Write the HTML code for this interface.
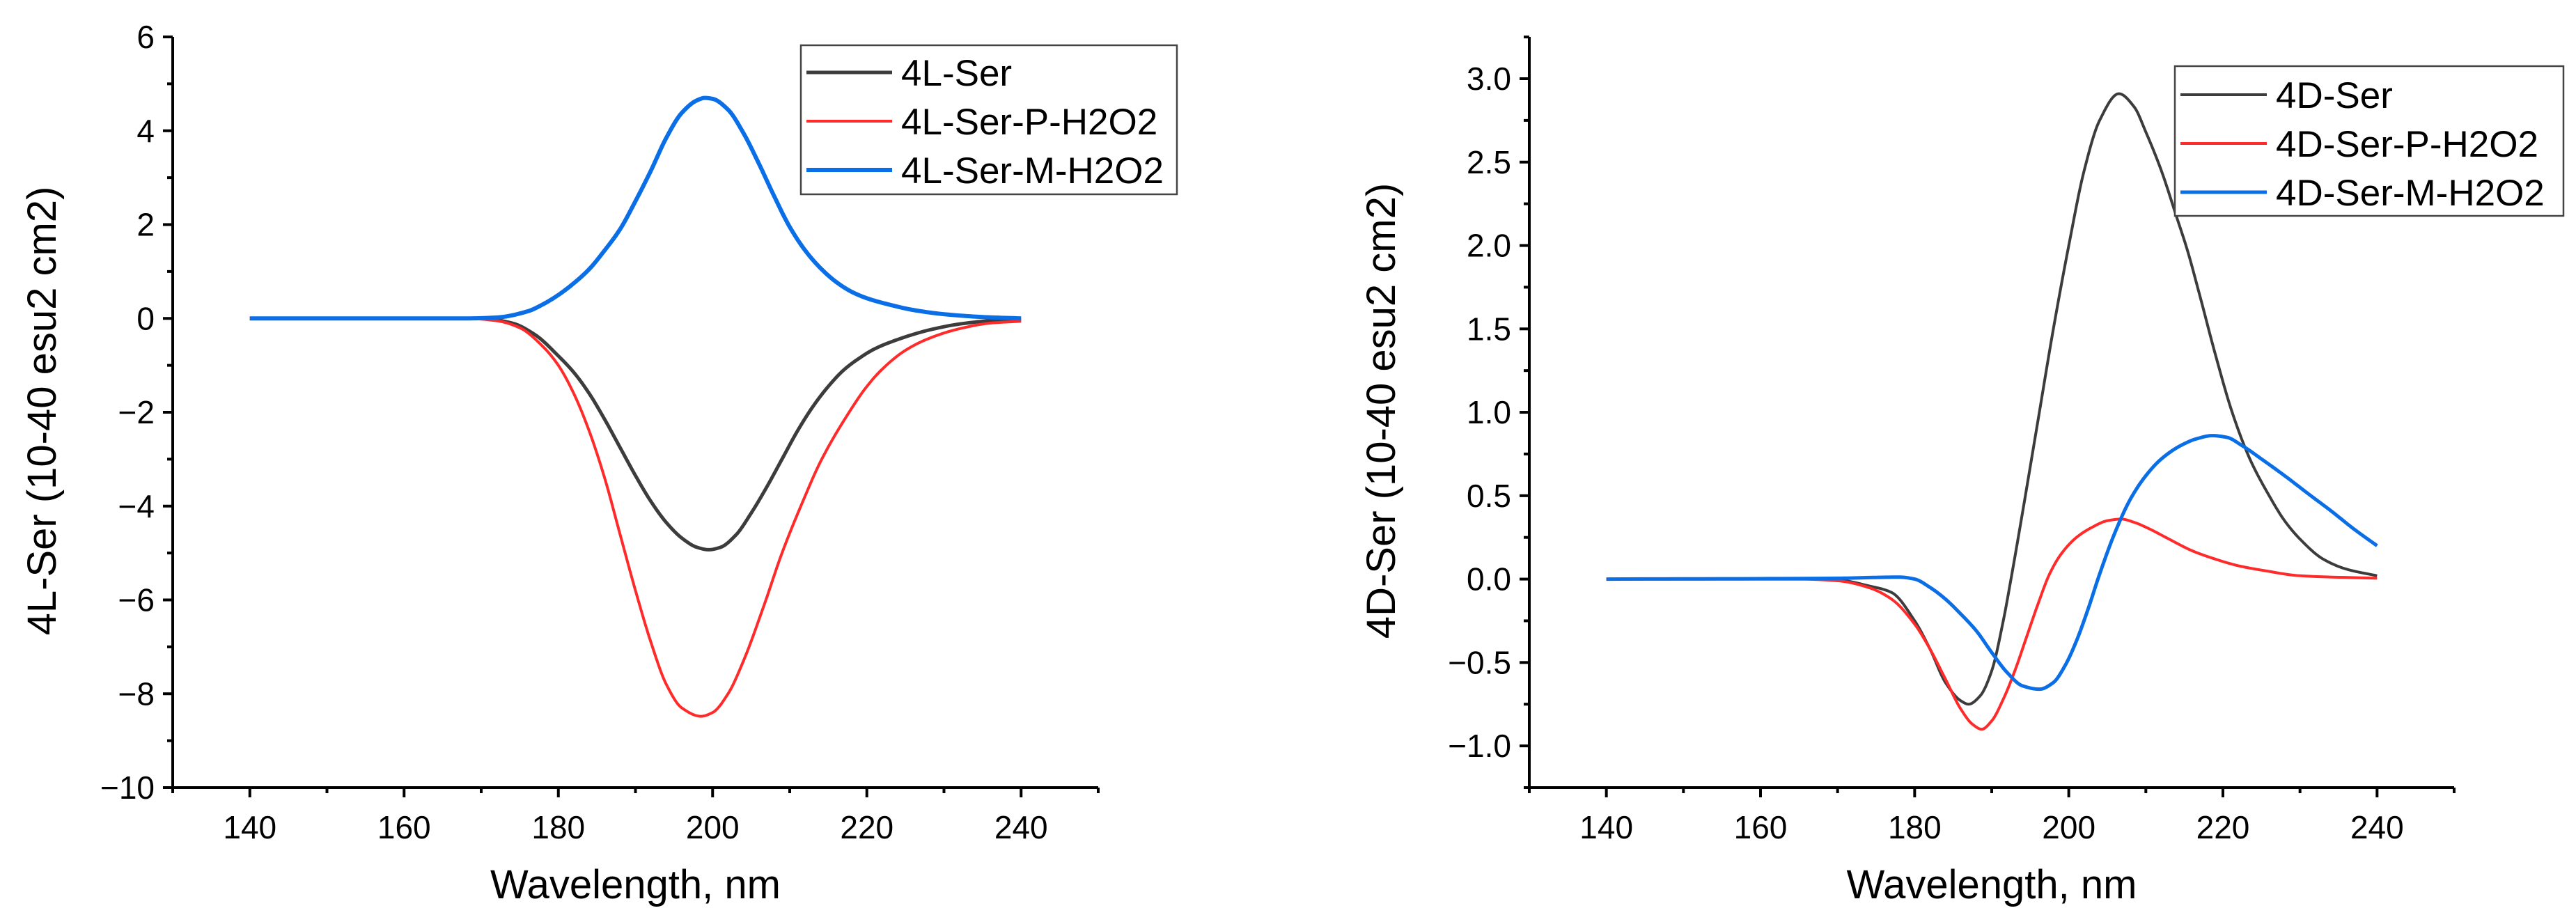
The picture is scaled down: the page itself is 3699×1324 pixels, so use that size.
<!DOCTYPE html>
<html><head><meta charset="utf-8"><style>
html,body{margin:0;padding:0;background:#fff}
svg{display:block;font-family:"Liberation Sans",Arial,sans-serif}
</style></head><body>
<svg id="svg" width="3699" height="1324" viewBox="0 0 3699 1324"></svg>
<script>
// ---- Left chart data ----
const lBlackX=[140,160,170,174,177,180,182,184,186,188,190,192,194,196,198,199.5,201,203,205,207,209,211,213,215,217,219,221,224,228,232,236,240];
const lBlackY=[0,0,0,-0.1,-0.35,-0.8,-1.15,-1.6,-2.15,-2.75,-3.35,-3.9,-4.35,-4.68,-4.88,-4.93,-4.88,-4.62,-4.15,-3.6,-3.0,-2.4,-1.88,-1.45,-1.1,-0.85,-0.65,-0.45,-0.25,-0.12,-0.05,-0.02];
const lRedX=[140,160,168,172,175,178,180,182,184,186,188,190,192,194,196,198.5,200,202,204,206.7,209,211.7,214,217.7,220,222,225,228,232,236,240];
const lRedY=[0,0,0,-0.05,-0.2,-0.6,-1.0,-1.6,-2.4,-3.4,-4.6,-5.8,-6.9,-7.8,-8.3,-8.48,-8.4,-8.0,-7.3,-6.1,-5.0,-3.9,-3.05,-2.0,-1.45,-1.08,-0.68,-0.43,-0.22,-0.1,-0.06];
const lBlueX=[140,160,168,172,176,178,180,182,184,186,188,190,192,194,196,198,199,200,202,204,206,208,210,212,214,216,218,220,223,226,230,235,240];
const lBlueY=[0,0,0,0.02,0.15,0.3,0.5,0.75,1.05,1.45,1.9,2.5,3.15,3.85,4.38,4.65,4.7,4.68,4.45,3.95,3.3,2.6,1.95,1.45,1.07,0.78,0.57,0.43,0.29,0.18,0.09,0.03,0];
const lYTicks=[6,4,2,0,-2,-4,-6,-8,-10];
const xTicks=[140,160,180,200,220,240];
// ---- Right chart data ----
const rBlackX=[140,165,170,174,177,180,182,184,186,187,188.5,190,191.5,192.5,194,196,198,200,202,204,206.5,208.5,210,212,214,215.4,217,219,221.2,223.5,226,228,230,233,236,240];
const rBlackY=[0,0,-0.005,-0.04,-0.08,-0.25,-0.42,-0.62,-0.73,-0.75,-0.7,-0.55,-0.25,0,0.4,0.95,1.5,2.0,2.45,2.75,2.91,2.83,2.68,2.45,2.17,1.97,1.7,1.35,1.0,0.72,0.5,0.35,0.24,0.12,0.06,0.02];
const rRedX=[140,165,170,174,177,180,182,184,186,187.5,188.7,190,191.5,193,194.5,196,197.5,199,201,203,205,206.8,208.5,210.5,213,216,219,222,225.5,230,240];
const rRedY=[0,0,-0.01,-0.05,-0.12,-0.27,-0.42,-0.6,-0.78,-0.87,-0.9,-0.85,-0.72,-0.55,-0.35,-0.15,0.03,0.15,0.25,0.31,0.35,0.36,0.34,0.3,0.24,0.17,0.12,0.08,0.05,0.02,0.005];
const rBlueX=[140,170,175,178,180,182,184,186,188,190,192,194,196.2,198,199.5,201,202.5,204,206,208,210,212,214.5,216.5,218.6,220.5,222.5,225,228,231.4,234,237,240];
const rBlueY=[0,0.005,0.01,0.012,0,-0.05,-0.12,-0.21,-0.31,-0.44,-0.56,-0.64,-0.66,-0.62,-0.52,-0.37,-0.18,0.03,0.28,0.48,0.62,0.72,0.8,0.84,0.86,0.85,0.8,0.72,0.62,0.5,0.41,0.3,0.2];
const rYTicks=[3.0,2.5,2.0,1.5,1.0,0.5,0.0,-0.5,-1.0];

const NS="http://www.w3.org/2000/svg";
const svg=document.getElementById('svg');
function mk(tag,attrs,parent){const e=document.createElementNS(NS,tag);for(const k in attrs)e.setAttribute(k,attrs[k]);(parent||svg).appendChild(e);return e;}
function path(xs,ys,fx,fy){
  const n=xs.length,d=[],m=new Array(n);
  for(let i=0;i<n-1;i++)d.push((ys[i+1]-ys[i])/(xs[i+1]-xs[i]));
  m[0]=d[0];m[n-1]=d[n-2];
  for(let i=1;i<n-1;i++){
    if(d[i-1]*d[i]<=0)m[i]=0;
    else{const h0=xs[i]-xs[i-1],h1=xs[i+1]-xs[i];const w1=2*h1+h0,w2=h1+2*h0;m[i]=(w1+w2)/(w1/d[i-1]+w2/d[i]);}
  }
  let s=`M${fx(xs[0])},${fy(ys[0])}`;
  for(let i=0;i<n-1;i++){
    const h=xs[i+1]-xs[i];
    for(let k=1;k<=12;k++){
      const t=k/12,t2=t*t,t3=t2*t;
      const y=(2*t3-3*t2+1)*ys[i]+(t3-2*t2+t)*h*m[i]+(-2*t3+3*t2)*ys[i+1]+(t3-t2)*h*m[i+1];
      s+=` L${fx(xs[i]+t*h).toFixed(2)},${fy(y).toFixed(2)}`;
    }
  }
  return s;
}
function chart(o){
  const fx=x=>o.x0+(x-130)/120*(o.x1-o.x0);
  const fy=y=>o.yb+(y-o.ymin)/(o.ymax-o.ymin)*(o.yt-o.yb);
  const g=mk('g',{});
  
  
  const ax=mk('g',{stroke:'#000','stroke-width':4},g);
  
  
  mk('line',{x1:o.x0,y1:o.yb,x2:o.x1,y2:o.yb},ax);
  mk('line',{x1:o.x0,y1:53,x2:o.x0,y2:o.yb},ax);
  for(let v=130;v<=250;v+=10){const X=fx(v);mk('line',{x1:X,y1:o.yb,x2:X,y2:o.yb+(v%20==0?14:8)},ax);}
  for(let v=o.ymin;v<=o.ytop+1e-9;v+=o.minor){const Y=fy(v);const maj=Math.abs(Math.round(v/o.major)*o.major-v)<1e-6;mk('line',{x1:o.x0,y1:Y,x2:o.x0-(maj?14:8),y2:Y},ax);}
  xTicks.forEach(v=>{const t=mk('text',{x:fx(v),y:o.yb+73,'font-size':46,'text-anchor':'middle'},g);t.textContent=v;
    });
  o.yticks.forEach(v=>{const t=mk('text',{x:o.x0-26,y:fy(v)+16,'font-size':46,'text-anchor':'end'},g);
    t.textContent=(v<0?'\u2212':'')+Math.abs(v).toFixed(o.dec);
    });
  const xt=mk('text',{x:(o.x0+o.x1)/2,y:1290,'font-size':58,'text-anchor':'middle'},g);xt.textContent='Wavelength, nm';
  
  const yt=mk('text',{x:0,y:0,'font-size':58,'text-anchor':'middle',transform:`translate(${o.ytx},590) rotate(-90)`},g);yt.textContent=o.ytitle;
  
  o.series.forEach(s=>{const p=mk('path',{d:path(s.x,s.y,fx,fy),fill:'none',stroke:s.c,'stroke-width':s.w,'stroke-linejoin':'round'},g);
    });
  const lg=mk('g',{},g);
  
  mk('rect',{x:o.lx,y:o.ly,width:o.lw,height:o.lh,fill:'#fff',stroke:'#444','stroke-width':2.5},lg);
  o.series.forEach((s,i)=>{const y=o.ly+o.lr0+i*70;
    mk('line',{x1:o.lx+8,y1:y,x2:o.lx+o.ll,y2:y,stroke:s.c,'stroke-width':s.w},lg);
    const t=mk('text',{x:o.lx+o.ll+13,y:y+19,'font-size':53},lg);t.textContent=s.label;
    });
}
chart({name:'chart-4L-Ser',x0:248,x1:1577,yb:1131,yt:53,ymin:-10,ymax:6,ytop:6,minor:1,major:2,yticks:lYTicks,dec:0,ytx:80,
  ytitle:'4L-Ser (10-40 esu2 cm2)',lx:1150,ly:65,lw:540,lh:214,lr0:39,ll:131,
  series:[{x:lBlackX,y:lBlackY,c:'#3c3c3c',w:5,n:'4l-ser',label:'4L-Ser'},
          {x:lRedX,y:lRedY,c:'#ff2a2a',w:4,n:'4l-ser-p-h2o2',label:'4L-Ser-P-H2O2'},
          {x:lBlueX,y:lBlueY,c:'#0a6ee6',w:6,n:'4l-ser-m-h2o2',label:'4L-Ser-M-H2O2'}]});
chart({name:'chart-4D-Ser',x0:2196,x1:3524,yb:1131,yt:113,ymin:-1.25,ymax:3.0,ytop:3.25,minor:0.25,major:0.5,yticks:rYTicks,dec:1,ytx:2003,
  ytitle:'4D-Ser (10-40 esu2 cm2)',lx:3123,ly:95,lw:558,lh:215,lr0:41,ll:132,
  series:[{x:rBlackX,y:rBlackY,c:'#3c3c3c',w:4,n:'4d-ser',label:'4D-Ser'},
          {x:rRedX,y:rRedY,c:'#ff2a2a',w:4,n:'4d-ser-p-h2o2',label:'4D-Ser-P-H2O2'},
          {x:rBlueX,y:rBlueY,c:'#0a6ee6',w:5,n:'4d-ser-m-h2o2',label:'4D-Ser-M-H2O2'}]});
</script>
</body></html>
